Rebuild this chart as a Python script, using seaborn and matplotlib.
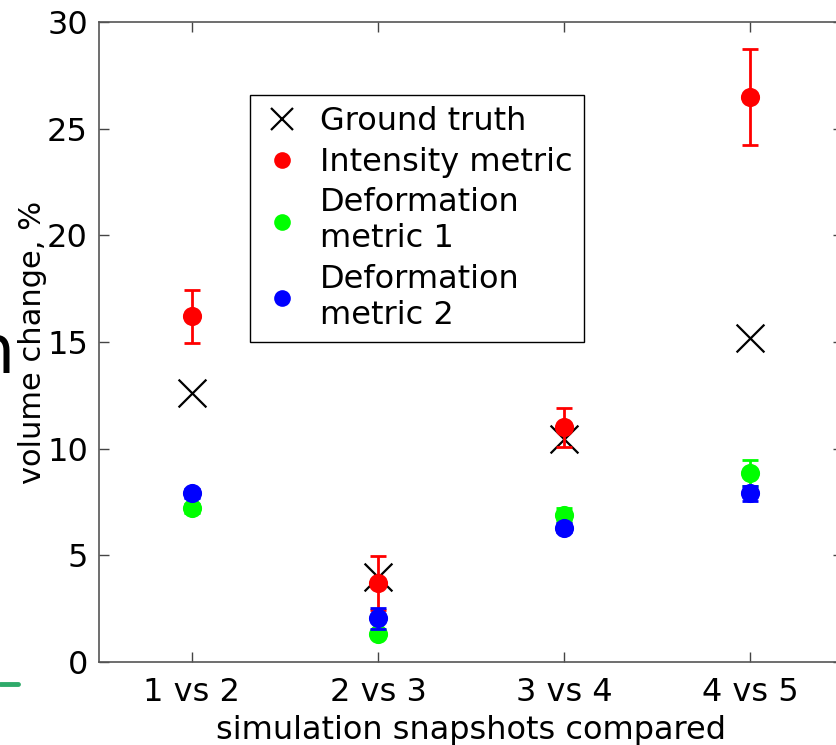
import matplotlib
matplotlib.use("Agg")
import matplotlib.pyplot as plt
import seaborn as sns
import pandas as pd
from matplotlib.lines import Line2D

categories = ["1 vs 2", "2 vs 3", "3 vs 4", "4 vs 5"]
ground_truth = [12.6, 4.0, 10.45, 15.2]
intensity = [16.2, 3.7, 11.0, 26.5]
intensity_err = [1.25, 1.25, 0.9, 2.25]
deform1 = [7.2, 1.3, 6.9, 8.85]
deform1_err = [0.2, 0.15, 0.3, 0.6]
deform2 = [7.9, 2.05, 6.3, 7.9]
deform2_err = [0.2, 0.5, 0.2, 0.35]
series_names = ["Ground truth", "Intensity metric",
                "Deformation\nmetric 1", "Deformation\nmetric 2"]
y_ticks = [0, 5, 10, 15, 20, 25, 30]

sns.set_style("ticks")
plt.rcParams["font.family"] = ["DejaVu Sans"]
plt.rcParams["text.color"] = "black"
plt.rcParams["axes.labelcolor"] = "black"
plt.rcParams["xtick.labelcolor"] = "black"
plt.rcParams["ytick.labelcolor"] = "black"

fig = plt.figure(figsize=(8.37, 7.45), dpi=100)
W, H = 837, 745
ax = fig.add_axes([99 / W, (H - 662) / H, (843 - 99) / W, 640 / H])

pos = list(range(1, len(categories) + 1))
df = pd.DataFrame({
    "pos": pos * 4,
    "value": ground_truth + intensity + deform1 + deform2,
    "err": [0] * 4 + intensity_err + deform1_err + deform2_err,
    "series": sum([[s] * 4 for s in series_names], []),
})

colors = {series_names[0]: "black", series_names[1]: "#ff0000",
          series_names[2]: "#00ff00", series_names[3]: "#0000ff"}

handles = []
for i, name in enumerate(series_names):
    sub = df[df["series"] == name]
    c = colors[name]
    if i == 0:
        sns.scatterplot(x=sub["pos"], y=sub["value"], marker="x", color=c,
                        s=400, linewidth=1.6, ax=ax, legend=False, zorder=3)
        handles.append(Line2D([], [], marker="x", color=c, linestyle="none",
                              markersize=16, markeredgewidth=1.6))
    else:
        ax.errorbar(sub["pos"], sub["value"], yerr=sub["err"], fmt="none",
                    ecolor=c, elinewidth=2, capsize=6, capthick=2,
                    zorder=3 + i)
        sns.scatterplot(x=sub["pos"], y=sub["value"], marker="o", color=c,
                        s=190, linewidth=0, ax=ax, legend=False,
                        zorder=3 + i)
        handles.append(Line2D([], [], marker="o", color=c, linestyle="none",
                              markersize=12, markeredgewidth=0))

ax.set_xlim(0.5, len(categories) + 0.5)
ax.set_ylim(0, 30)
ax.set_xticks(pos)
ax.set_xticklabels(categories)
ax.set_yticks(y_ticks)
ax.set_xlabel("simulation snapshots compared", fontsize=23, labelpad=5)
ax.set_ylabel("volume change, %", fontsize=22, labelpad=0)
ax.tick_params(axis="both", direction="in", length=7, width=1,
               color="#444444", labelsize=23, pad=8,
               top=True, right=True)
ax.tick_params(axis="x", pad=11)
for sp in ax.spines.values():
    sp.set_visible(True)
    sp.set_color("#555555")
    sp.set_linewidth(1.2)

leg = fig.legend(handles, series_names, loc="upper left",
                 bbox_to_anchor=(250 / W, 1 - 95 / H),
                 bbox_transform=fig.transFigure, borderaxespad=0,
                 frameon=True, fancybox=False, framealpha=1,
                 fontsize=23, handletextpad=0.55, handlelength=1.3,
                 labelspacing=0.3, borderpad=0.35)
leg.get_frame().set_edgecolor("black")
leg.get_frame().set_linewidth(1)

# cropped artifacts at left edge of the original image
fig.text(-0.032, (H - 373) / H, "n", fontsize=48, color="black",
         ha="left", va="baseline")
fig.add_artist(Line2D([0, 18 / W], [(H - 684) / H] * 2, color="#2eaa6a",
                      linewidth=3.5, transform=fig.transFigure))

fig.savefig("out.png", dpi=100)
